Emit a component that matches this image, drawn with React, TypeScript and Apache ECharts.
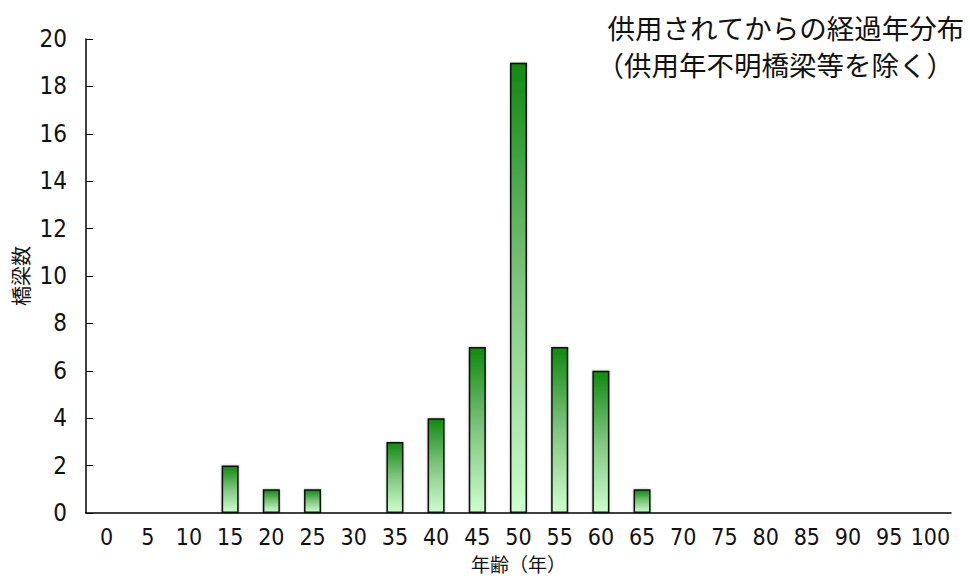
import React, { useEffect, useRef } from "react";
import * as echarts from "echarts";

const categories = ["0","5","10","15","20","25","30","35","40","45","50","55","60","65","70","75","80","85","90","95","100"];
const counts = [0,0,0,2,1,1,0,3,4,7,19,7,6,1,0,0,0,0,0,0,0];
const titleLines = ["供用されてからの経過年分布", "（供用年不明橋梁等を除く）"];
const yName = "橋梁数";
const xName = "年齢（年）";

const FONT = "'DejaVu Sans Condensed', 'Liberation Sans Narrow', sans-serif";
const CJK = "'Noto Sans CJK JP', sans-serif";

export default function App() {
  const ref = useRef<HTMLDivElement>(null);
  useEffect(() => {
    if (!ref.current) return;
    const chart = echarts.init(ref.current, undefined, { renderer: "svg" });
    chart.setOption({
      animation: false,
      backgroundColor: "#ffffff",
      graphic: [
        {
          type: "text",
          right: 5,
          top: 12,
          style: {
            text: titleLines[0],
            fontFamily: CJK,
            fontSize: 27.5,
            lineHeight: 29,
            fill: "#111",
          },
        },
        {
          type: "text",
          right: 16,
          top: 49,
          style: {
            text: titleLines[1],
            fontFamily: CJK,
            fontSize: 27.5,
            lineHeight: 29,
            fill: "#111",
          },
        },
      ],
      grid: { left: 86, right: 19, top: 39, bottom: 65, outerBoundsMode: "none", containLabel: false },
      xAxis: {
        type: "category",
        data: categories,
        name: xName,
        nameLocation: "middle",
        nameGap: 40,
        nameMoveOverlap: false,
        nameTextStyle: { fontFamily: CJK, fontSize: 19, lineHeight: 20, color: "#111" },
        axisLine: { lineStyle: { color: "#000", width: 1.5 } },
        axisTick: { inside: true, length: 7, lineStyle: { color: "#000" } },
        axisLabel: { fontFamily: FONT, fontSize: 23, lineHeight: 22, color: "#111", margin: 13, interval: 0 },
      },
      yAxis: {
        type: "value",
        min: 0,
        max: 20,
        interval: 2,
        name: yName,
        nameLocation: "middle",
        nameGap: 56,
        nameMoveOverlap: false,
        nameRotate: 90,
        nameTextStyle: { fontFamily: CJK, fontSize: 20, color: "#111" },
        axisLine: { show: true, lineStyle: { color: "#000", width: 1.5 } },
        axisTick: { show: true, inside: true, length: 7, lineStyle: { color: "#000" } },
        axisLabel: { fontFamily: FONT, fontSize: 24, color: "#111", margin: 19 },
        splitLine: { show: false },
      },
      series: [
        {
          type: "bar",
          data: counts,
          barWidth: 17,
          itemStyle: {
            color: new echarts.graphic.LinearGradient(0, 0, 0, 1, [
              { offset: 0, color: "#108a10" },
              { offset: 0.5, color: "#80c680" },
              { offset: 1, color: "#ccffcc" },
            ]),
            borderColor: "#111",
            borderWidth: 1.5,
            shadowColor: "rgba(0,0,0,0.35)",
            shadowBlur: 2,
          },
        },
      ],
    });
    return () => chart.dispose();
  }, []);
  return <div ref={ref} style={{ width: 970, height: 578, position: "absolute", left: 0, top: 0 }} />;
}
